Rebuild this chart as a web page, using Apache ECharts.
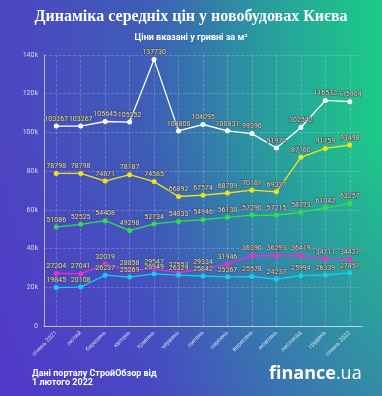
<!DOCTYPE html>
<html><head><meta charset="utf-8">
<script src="https://cdn.jsdelivr.net/npm/echarts@6/dist/echarts.min.js"></script>
<style>
html,body{margin:0;padding:0;}
body{width:382px;height:396px;overflow:hidden;
background:
 linear-gradient(to bottom, rgba(90,40,215,0) 35%, rgba(90,35,215,0.38) 100%),
 linear-gradient(to right, #4d44c2 0%, #3d5fb6 40%, #27a19c 72%, #1ccb88 100%);}
#c{width:382px;height:396px;}
</style></head>
<body><div id="c"></div>
<script>
const categories = ['січень 2021','лютий','березень','квітень','травень','червень','липень','серпень','вересень','жовтень','листопад','грудень','січень 2022'];
const yTicks = [0, 20000, 40000, 60000, 80000, 100000, 120000, 140000];
const whiteSeries = [103267,103267,105645,105352,137730,100800,104095,100831,99390,91974,102542,116512,115904];
const yellowSeries = [78798,78798,74871,78187,74585,66892,67574,68709,70181,69337,87160,91759,93498];
const greenSeries = [51086,52525,54408,49298,52734,54033,54946,56138,57290,57215,58773,61042,63257];
const magentaSeries = [27204,27041,32019,28858,29547,27553,29334,31946,36390,36293,36419,34711,34421];
const cyanSeries = [19845,20108,26237,25269,26949,26329,25842,25367,25578,24237,25994,26339,27451];

const chart = echarts.init(document.getElementById('c'), null, {renderer:'canvas'});
function mk(data, color){
  return {type:'line', data:data, symbol:'circle', symbolSize:5,
    lineStyle:{color:color, width:1.3}, itemStyle:{color:color},
    label:{show:true, position:'top', distance:1, fontSize:7, fontFamily:'Roboto',
      color:'#d9d9d9', textBorderColor:'rgba(70,70,70,0.85)', textBorderWidth:1.2},
    z:3};
}
chart.setOption({
  animation:false,
  backgroundColor:'transparent',
  title:[
    {text:'Динаміка середніх цін у новобудовах Києва', left:'center', top:4,
     textStyle:{color:'#ffffff', fontFamily:'Liberation Serif', fontWeight:'bold', fontSize:16}},
    {text:'Ціни вказані у гривні за м²', left:'center', top:28,
     textStyle:{color:'#ffffff', fontFamily:'Roboto', fontWeight:'bold', fontSize:9}}
  ],
  grid:{left:44, right:20, top:55, bottom:70},
  xAxis:{type:'category', data:categories, boundaryGap:true,
    axisLine:{lineStyle:{color:'rgba(255,255,255,0.6)', width:1}},
    axisTick:{show:false},
    axisLabel:{rotate:45, fontSize:6, color:'rgba(255,255,255,0.75)', margin:6, interval:0, fontFamily:'Roboto'},
    splitLine:{show:true, alignWithLabel:true, lineStyle:{type:'dashed', color:'rgba(255,255,255,0.25)', width:0.8}}
  },
  yAxis:{type:'value', min:yTicks[0], max:yTicks[yTicks.length-1], interval:20000,
    axisLine:{show:true, lineStyle:{color:'rgba(255,255,255,0.6)', width:1}},
    axisLabel:{fontSize:7, color:'rgba(255,255,255,0.75)', margin:6, fontFamily:'Roboto',
      formatter:function(v){return v===0?'0':(v/1000)+'k';}},
    splitLine:{lineStyle:{type:'dashed', color:'rgba(255,255,255,0.25)', width:0.8}}
  },
  series:[
    mk(whiteSeries,'#ffffff'),
    mk(yellowSeries,'#ede41a'),
    mk(greenSeries,'#2ee04a'),
    mk(magentaSeries,'#f02ed0'),
    mk(cyanSeries,'#12cfee')
  ],
  graphic:[
    {type:'text', left:32, top:369, style:{text:'Дані порталу СтройОбзор від\n1 лютого 2022', fill:'#ffffff',
      font:'bold 9px Roboto', lineHeight:9}},
    {type:'text', left:269, top:365, style:{text:'{a|finance}{b|.ua}', fill:'#ffffff',
      rich:{a:{font:'bold 18px "Open Sans"', fill:'#ffffff'}, b:{font:'18px "Open Sans"', fill:'#ffffff'}}}}
  ]
});
</script>
</body></html>
